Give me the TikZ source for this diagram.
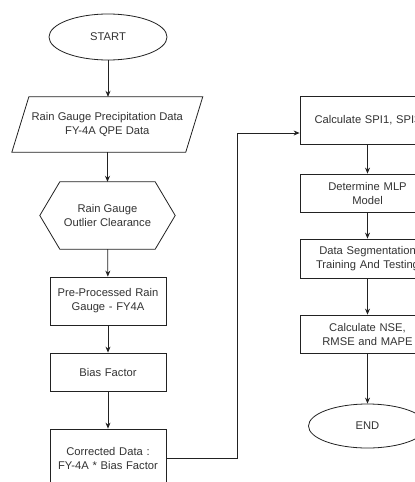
\documentclass[tikz,border=0pt]{standalone}
\usepackage{fontspec}
\setmainfont{Liberation Sans}
\usetikzlibrary{shapes.geometric,arrows.meta,calc}
\definecolor{txt}{HTML}{333333}
\definecolor{ln}{HTML}{222222}
\begin{document}
\begin{tikzpicture}[x=1pt,y=-1pt,
  every node/.style={font=\fontsize{11.2}{14}\selectfont, text=txt, align=center, inner sep=0pt},
  proc/.style={draw=ln, line width=0.8pt, rectangle, minimum width=116, text width=114},
  term/.style={draw=ln, line width=0.8pt, ellipse, minimum width=118},
  ghost/.style={draw=none, rectangle},
  arr/.style={draw=ln, line width=0.8pt, -{Stealth[length=6pt,width=5pt]}},
  shp/.style={draw=ln, line width=0.8pt}]
\useasboundingbox (0,0) rectangle (415,482);
\clip (0,0) rectangle (415,482);
\fill[white] (0,0) rectangle (415,482);
% left column
\node[term, minimum height=46] (start) at (108,37) {START};
\node[ghost, minimum width=173.5, minimum height=55] (data) at (107.3,124.5) {Rain Gauge Precipitation Data\\FY-4A QPE Data};
\draw[shp] ($(data.north west)+(8.5,0)$) -- ($(data.north east)+(8.5,0)$) -- ($(data.south east)+(-8.5,0)$) -- ($(data.south west)+(-8.5,0)$) -- cycle;
\node[ghost, minimum width=135, minimum height=67] (clear) at (107.5,215.5) {Rain Gauge\\Outlier Clearance};
\draw[shp] (clear.west) -- ($(clear.north west)+(20,0)$) -- ($(clear.north east)+(-20,0)$) -- (clear.east) -- ($(clear.south east)+(-20,0)$) -- ($(clear.south west)+(20,0)$) -- cycle;
\node[proc, minimum height=48] (pre) at (108,301) {Pre-Processed Rain\\Gauge - FY4A};
\node[proc, minimum height=38] (bias) at (108,372) {Bias Factor};
\node[proc, minimum height=58] (corr) at (108,458) {Corrected Data :\\FY-4A * Bias Factor};
% right column
\node[proc, minimum width=117, text width=135, minimum height=48] (spi) at (367.5,120) {Calculate SPI1, SPI3};
\node[proc, minimum width=117, text width=135, minimum height=38] (mlp) at (367.5,193) {Determine MLP\\Model};
\node[proc, minimum width=117, text width=135, minimum height=39] (seg) at (367.5,258.5) {Data Segmentation\\Training And Testing};
\node[proc, minimum width=117, text width=135, minimum height=38] (nse) at (367.5,334) {Calculate NSE,\\RMSE and MAPE};
\node[term, minimum height=44] (end) at (367.5,426) {END};
% connectors
\draw[arr] (start) -- (start |- data.north);
\draw[arr] (data.south -| clear) -- (clear.north);
\draw[arr] (clear) -- (pre);
\draw[arr] (pre) -- (bias);
\draw[arr] (bias) -- (corr);
\coordinate (c1) at (237,458);
\coordinate (c2) at (237,133);
\draw[arr] (corr.east) -- (c1) -- (c2) -- (c2 -| spi.west);
\draw[arr] (spi) -- (mlp);
\draw[arr] (mlp) -- (seg);
\draw[arr] (seg) -- (nse);
\draw[arr] (nse) -- (end);
\end{tikzpicture}
\end{document}
